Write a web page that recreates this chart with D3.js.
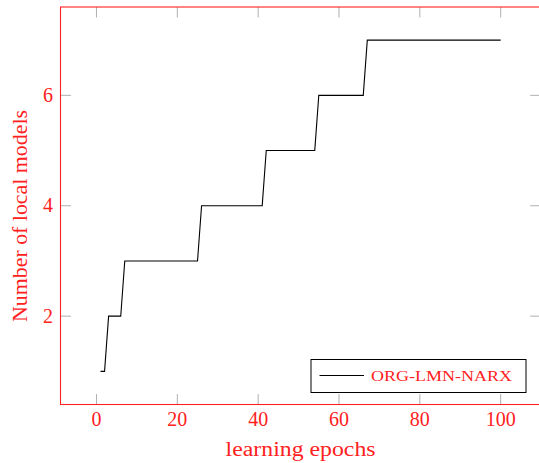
<!DOCTYPE html>
<html>
<head>
<meta charset="utf-8">
<script src="https://cdn.jsdelivr.net/npm/d3@7/dist/d3.min.js"></script>
<style>
  html, body { margin: 0; padding: 0; background: #fff; }
  svg { display: block; }
  text { font-family: "Liberation Serif", "DejaVu Serif", serif; }
</style>
</head>
<body>
<svg id="chart" width="539" height="463"></svg>
<script>
// Step vertices of the model-count curve (epoch, number of local models)
const epochs = [1, 2, 3, 6, 7, 25, 26, 41, 42, 54, 55, 66, 67, 100];
const models = [1, 1, 2, 2, 3, 3, 4, 4, 5, 5, 6, 6, 7, 7];

const xTicks = [0, 20, 40, 60, 80, 100];
const yTicks = [2, 4, 6];
const seriesName = "ORG-LMN-NARX";
const xLabel = "learning epochs";
const yLabel = "Number of local models";

const svg = d3.select("#chart");
const plotLeft = 60.5, plotRight = 540.7, plotTop = 7, plotBottom = 404.5;

// axis limits enlarged by 10% of the data range on each side
const xMin = d3.min(epochs), xMax = d3.max(epochs);
const yMin = d3.min(models), yMax = d3.max(models);
const xPad = (xMax - xMin) * 0.1, yPad = (yMax - yMin) * 0.1;

const x = d3.scaleLinear().domain([xMin - xPad, xMax + xPad]).range([plotLeft, plotRight]);
const y = d3.scaleLinear().domain([yMin - yPad, yMax + yPad]).range([plotBottom, plotTop]);

const tickLen = 10.5;
const tickColor = "#b0b0b0";
const red = "#ff2020";

// inward ticks on all four sides
const g = svg.append("g");
xTicks.forEach(t => {
  g.append("line").attr("x1", x(t)).attr("x2", x(t)).attr("y1", plotBottom).attr("y2", plotBottom - tickLen)
    .attr("stroke", tickColor).attr("stroke-width", 1);
  g.append("line").attr("x1", x(t)).attr("x2", x(t)).attr("y1", plotTop).attr("y2", plotTop + tickLen)
    .attr("stroke", tickColor).attr("stroke-width", 1);
});
yTicks.forEach(t => {
  g.append("line").attr("x1", plotLeft).attr("x2", plotLeft + tickLen).attr("y1", y(t)).attr("y2", y(t))
    .attr("stroke", tickColor).attr("stroke-width", 1);
  g.append("line").attr("x1", plotRight).attr("x2", plotRight - tickLen).attr("y1", y(t)).attr("y2", y(t))
    .attr("stroke", tickColor).attr("stroke-width", 1);
});

// data curve
const line = d3.line().x((d, i) => x(epochs[i])).y((d, i) => y(models[i]));
svg.append("path").datum(models).attr("d", line)
  .attr("fill", "none").attr("stroke", "#000").attr("stroke-width", 1.1)
  .attr("stroke-linejoin", "miter");

// frame
svg.append("rect").attr("x", plotLeft).attr("y", plotTop)
  .attr("width", plotRight - plotLeft).attr("height", plotBottom - plotTop)
  .attr("fill", "none").attr("stroke", red).attr("stroke-width", 1.1);

// tick labels
const xAxisLabels = svg.append("g").attr("fill", red).attr("font-size", 20);
xAxisLabels.selectAll("text").data(xTicks).join("text")
  .attr("x", d => x(d)).attr("y", 426).attr("text-anchor", "middle").text(d => d);
const yAxisLabels = svg.append("g").attr("fill", red).attr("font-size", 20);
yAxisLabels.selectAll("text").data(yTicks).join("text")
  .attr("x", 53).attr("y", d => y(d) + 6.7).attr("text-anchor", "end").text(d => d);

// axis titles
svg.append("text").attr("x", (plotLeft + plotRight) / 2).attr("y", 456)
  .attr("text-anchor", "middle").attr("fill", red).attr("font-size", 20)
  .attr("textLength", 150).attr("lengthAdjust", "spacingAndGlyphs").text(xLabel);
svg.append("text").attr("transform", "translate(26.5,216) rotate(-90)")
  .attr("text-anchor", "middle").attr("fill", red).attr("font-size", 20)
  .attr("textLength", 212).attr("lengthAdjust", "spacingAndGlyphs").text(yLabel);

// legend
const lg = svg.append("g");
lg.append("rect").attr("x", 311).attr("y", 359.5).attr("width", 215).attr("height", 33)
  .attr("fill", "#fff").attr("stroke", "#000").attr("stroke-width", 1);
lg.append("line").attr("x1", 319.5).attr("x2", 364).attr("y1", 375.5).attr("y2", 375.5)
  .attr("stroke", "#000").attr("stroke-width", 1.1);
lg.append("text").attr("x", 371).attr("y", 380.5).attr("fill", red).attr("font-size", 14.5)
  .attr("textLength", 141).attr("lengthAdjust", "spacingAndGlyphs").text(seriesName);
</script>
</body>
</html>
